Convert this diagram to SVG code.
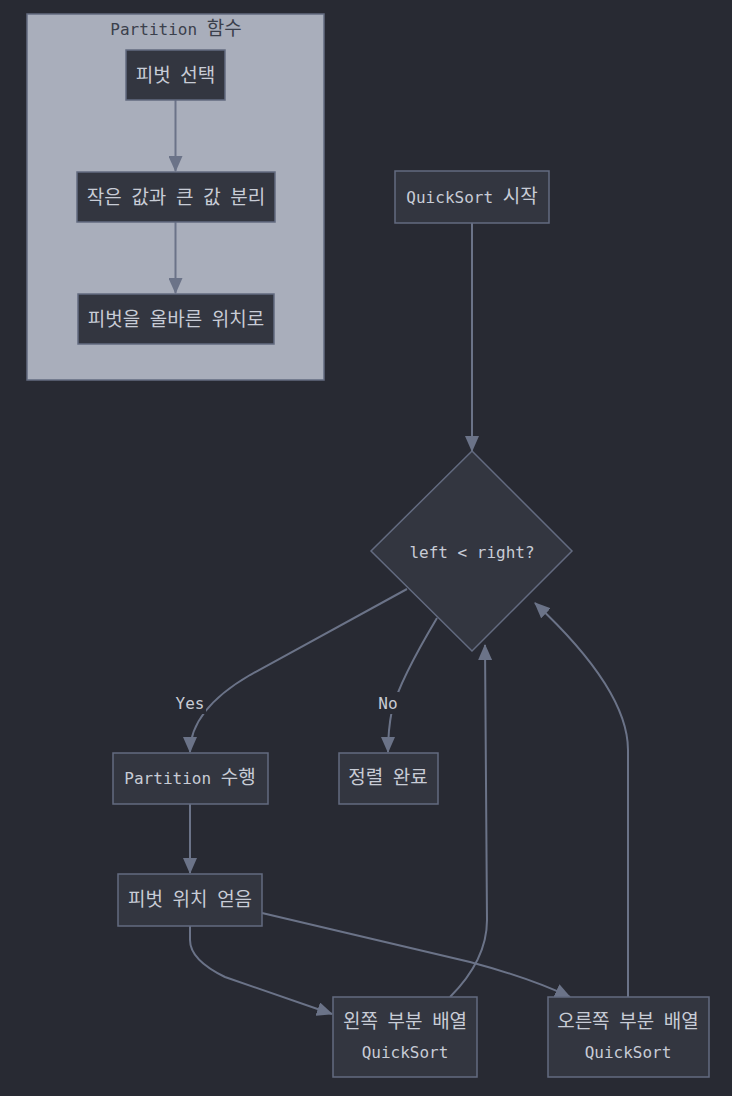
<svg xmlns="http://www.w3.org/2000/svg" width="732" height="1096" viewBox="0 0 732 1096">
<defs>
<style>
.bg{fill:#282a33}
.node{fill:#333640;stroke:#636b80;stroke-width:1.5}
.cluster{fill:#a9aebb;stroke:#636b80;stroke-width:1.5}
.t{font-family:"DejaVu Sans Mono","Noto Sans CJK KR",monospace;font-size:16px;fill:#c8ccd6;text-anchor:middle}
.k{font-family:"Noto Sans CJK KR","DejaVu Sans Mono",sans-serif;font-size:19px}
.ct{fill:#3b404c}
.e{fill:none;stroke:#6b7388;stroke-width:2}
.lbg{fill:#282a33}
</style>
<marker id="ah" viewBox="0 0 16 14" refX="15" refY="7" markerWidth="16" markerHeight="14" markerUnits="userSpaceOnUse" orient="auto">
<path d="M0,0 L16,7 L0,14 Z" fill="#6b7388"/>
</marker>
</defs>
<rect class="bg" x="0" y="0" width="732" height="1096"/>
<g id="cluster-partition">
<rect class="cluster" x="27" y="14" width="297" height="366"/>
<text class="t ct" x="176" y="35">Partition <tspan class="k">함수</tspan></text>
</g>
<g id="connectors">
<path class="e" d="M175.5,100 L175.5,171" marker-end="url(#ah)"/>
<path class="e" d="M175.5,222 L175.5,293" marker-end="url(#ah)"/>
<path class="e" d="M472,223 L472,451" marker-end="url(#ah)"/>
<path class="e" d="M407,589 L250,675 Q190,710 190,752" marker-end="url(#ah)"/>
<path class="e" d="M437,618 Q400,680 392,710 Q388,730 388,752" marker-end="url(#ah)"/>
<path class="e" d="M190,804 L190,873" marker-end="url(#ah)"/>
<path class="e" d="M190,926 L190,940 Q190,960 225,977 L332,1014" marker-end="url(#ah)"/>
<path class="e" d="M262,913 L470,962 Q530,978 570,997" marker-end="url(#ah)"/>
<path class="e" d="M450,997 Q487,960 487,920 L485,645" marker-end="url(#ah)"/>
<path class="e" d="M628,997 L628,750 Q628,690 535,603" marker-end="url(#ah)"/>
<rect class="lbg" x="174" y="692" width="32" height="22"/>
<text class="t" x="190" y="709">Yes</text>
<rect class="lbg" x="377" y="692" width="22" height="22"/>
<text class="t" x="388" y="709">No</text>
</g>
<g id="n-pivot-select">
<rect class="node" x="126" y="50" width="99" height="50"/>
<text class="t" x="175.5" y="82"><tspan class="k">피벗</tspan> <tspan class="k">선택</tspan></text>
</g>
<g id="n-split">
<rect class="node" x="77" y="172" width="198" height="50"/>
<text class="t" x="176" y="204"><tspan class="k">작은</tspan> <tspan class="k">값과</tspan> <tspan class="k">큰</tspan> <tspan class="k">값</tspan> <tspan class="k">분리</tspan></text>
</g>
<g id="n-place">
<rect class="node" x="78" y="294" width="196" height="50"/>
<text class="t" x="176" y="326"><tspan class="k">피벗을</tspan> <tspan class="k">올바른</tspan> <tspan class="k">위치로</tspan></text>
</g>
<g id="n-start">
<rect class="node" x="395" y="171" width="154" height="52"/>
<text class="t" x="472" y="203">QuickSort <tspan class="k">시작</tspan></text>
</g>
<g id="n-cond">
<polygon class="node" points="472,451 572,551 472,651 371,551"/>
<text class="t" x="472" y="558">left &lt; right?</text>
</g>
<g id="n-partition">
<rect class="node" x="113" y="753" width="155" height="51"/>
<text class="t" x="190" y="784">Partition <tspan class="k">수행</tspan></text>
</g>
<g id="n-done">
<rect class="node" x="339" y="753" width="99" height="51"/>
<text class="t" x="388" y="784"><tspan class="k">정렬</tspan> <tspan class="k">완료</tspan></text>
</g>
<g id="n-pivotpos">
<rect class="node" x="118" y="874" width="144" height="52"/>
<text class="t" x="190" y="906"><tspan class="k">피벗</tspan> <tspan class="k">위치</tspan> <tspan class="k">얻음</tspan></text>
</g>
<g id="n-left">
<rect class="node" x="333" y="997" width="144" height="80"/>
<text class="t" x="405" y="1028"><tspan class="k">왼쪽</tspan> <tspan class="k">부분</tspan> <tspan class="k">배열</tspan></text>
<text class="t" x="405" y="1058">QuickSort</text>
</g>
<g id="n-right">
<rect class="node" x="548" y="997" width="161" height="80"/>
<text class="t" x="628" y="1028"><tspan class="k">오른쪽</tspan> <tspan class="k">부분</tspan> <tspan class="k">배열</tspan></text>
<text class="t" x="628" y="1058">QuickSort</text>
</g>
</svg>
